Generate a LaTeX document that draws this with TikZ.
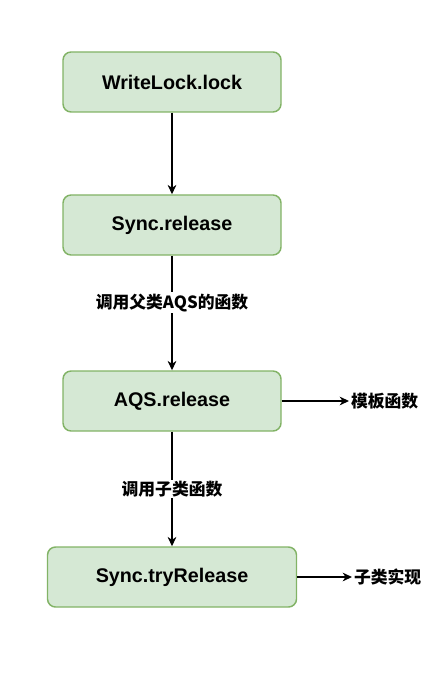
\documentclass[tikz,border=0pt]{standalone}
\usepackage{fontspec}
\setmainfont{Liberation Sans}
\newfontfamily\cjk{Noto Sans CJK SC}
\usetikzlibrary{positioning,arrows.meta}
\definecolor{boxfill}{HTML}{D5E8D4}
\definecolor{boxline}{HTML}{82B366}

\tikzset{
    fnbox/.style={draw=boxline, fill=boxfill, line width=1.1pt, rounded corners=6pt,
        minimum width=163.5pt, minimum height=45pt, font=\fontsize{14.8}{16}\selectfont\bfseries},
    note/.style={fill=white, inner sep=1pt, font=\cjk\fontsize{12.6}{14}\selectfont\bfseries},
}

\begin{document}
\begin{tikzpicture}[x=0.75pt, y=-0.75pt, >={Stealth[length=7pt, width=6.5pt, inset=2.2pt]}, line width=1.1pt]
    \useasboundingbox (0,0) rectangle (446,673);
    \node[fnbox] (lock) at (172, 82) {WriteLock.lock};
    \node[fnbox] (sync) at (172, 225) {Sync.release};
    \node[fnbox] (aqs) at (172, 401) {AQS.release};
    \node[fnbox, minimum width=186.75pt] (try) at (172, 577) {Sync.tryRelease};
    \node[note, anchor=west] (tmpl) at (349, 401) {模板函数};
    \node[note, anchor=west] (impl) at (352, 577) {子类实现};
    \path[->]
    (lock) edge (sync)
    (sync) edge node [note, pos=0.41] {调用父类AQS的函数} (aqs)
    (aqs) edge node [note] {调用子类函数} (try)
          edge (tmpl)
    (try) edge (impl);
\end{tikzpicture}
\end{document}
